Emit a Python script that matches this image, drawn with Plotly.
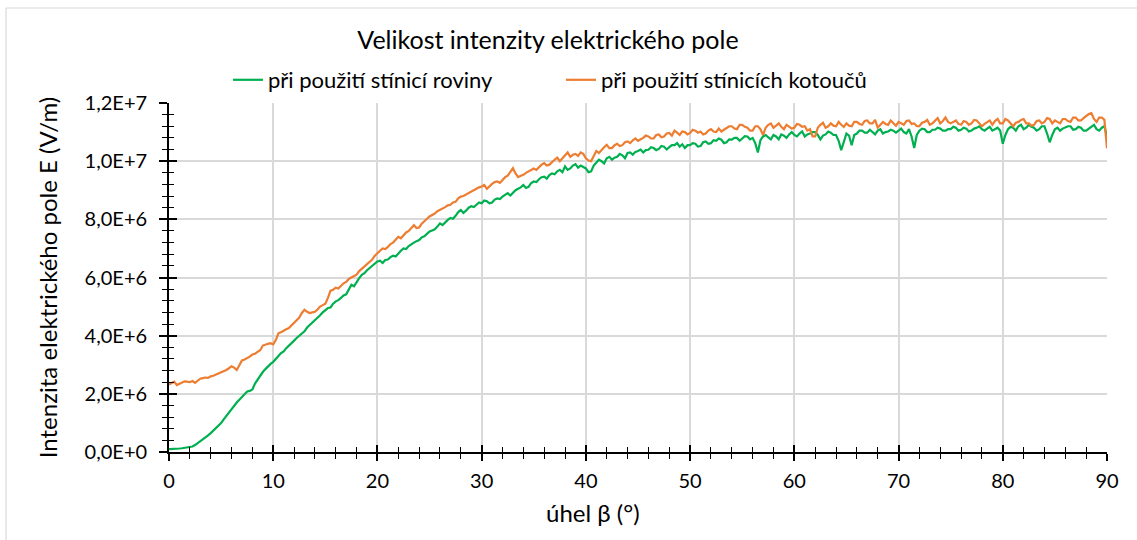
import plotly.graph_objects as go

# angle beta (deg), 0..90 step 0.25
angle = [i * 0.25 for i in range(361)]

# E-field, shielding plane (values read in MV/m = 1e6 V/m)
green_mv = [
    0.10, 0.10, 0.11, 0.11, 0.12, 0.13, 0.14, 0.15, 0.16, 0.19, 0.24, 0.30, 0.37, 0.43, 0.50, 0.57, 0.65, 0.73, 0.82, 0.91,
    1.00, 1.12, 1.24, 1.37, 1.50, 1.60, 1.70, 1.80, 1.90, 2.00, 2.08, 2.10, 2.15, 2.35, 2.50, 2.62, 2.75, 2.85, 2.95, 3.03,
    3.10, 3.22, 3.30, 3.40, 3.46, 3.57, 3.65, 3.72, 3.83, 3.92, 4.00, 4.06, 4.15, 4.28, 4.36, 4.47, 4.55, 4.62, 4.70, 4.80,
    4.88, 4.95, 4.97, 5.10, 5.18, 5.22, 5.30, 5.38, 5.42, 5.60, 5.75, 5.70, 5.85, 5.98, 6.09, 6.15, 6.25, 6.32, 6.40, 6.48,
    6.55, 6.58, 6.50, 6.60, 6.62, 6.70, 6.75, 6.72, 6.83, 6.92, 7.00, 6.98, 7.08, 7.15, 7.20, 7.25, 7.29, 7.38, 7.42, 7.50,
    7.58, 7.62, 7.66, 7.75, 7.86, 7.80, 7.90, 7.98, 8.05, 8.02, 8.12, 8.25, 8.32, 8.22, 8.30, 8.40, 8.45, 8.42, 8.50, 8.58,
    8.55, 8.65, 8.62, 8.55, 8.58, 8.68, 8.72, 8.70, 8.78, 8.85, 8.90, 8.82, 8.92, 9.00, 9.05, 9.10, 9.18, 9.08, 9.12, 9.25,
    9.30, 9.28, 9.38, 9.45, 9.47, 9.40, 9.52, 9.58, 9.55, 9.65, 9.70, 9.62, 9.82, 9.70, 9.75, 9.85, 9.90, 9.78, 9.85, 9.80,
    9.75, 9.62, 9.65, 9.85, 9.95, 10.05, 10.00, 9.92, 10.10, 10.15, 10.05, 10.12, 10.15, 10.25, 10.20, 10.10, 10.28, 10.30, 10.22, 10.32,
    10.35, 10.40, 10.30, 10.38, 10.39, 10.48, 10.45, 10.38, 10.42, 10.52, 10.50, 10.40, 10.48, 10.55, 10.55, 10.62, 10.50, 10.58, 10.45, 10.55,
    10.55, 10.62, 10.60, 10.50, 10.52, 10.65, 10.68, 10.60, 10.62, 10.72, 10.70, 10.78, 10.74, 10.62, 10.65, 10.75, 10.74, 10.80, 10.80, 10.70,
    10.78, 10.86, 10.85, 10.75, 10.80, 10.62, 10.30, 10.72, 10.85, 10.90, 10.82, 10.75, 10.90, 10.85, 10.75, 10.92, 10.88, 10.80, 10.92, 11.00,
    10.90, 10.85, 10.95, 11.02, 10.85, 10.92, 10.95, 11.00, 11.00, 10.90, 10.75, 10.88, 10.92, 11.02, 10.98, 10.90, 10.90, 10.70, 10.38, 10.70,
    10.95, 10.88, 10.55, 10.90, 10.95, 11.05, 11.05, 10.98, 10.98, 11.08, 11.00, 10.92, 11.05, 11.10, 10.95, 11.00, 11.02, 11.08, 11.05, 10.98,
    11.05, 11.12, 11.00, 10.95, 11.10, 10.85, 10.45, 10.90, 11.05, 11.12, 11.10, 11.00, 11.00, 11.08, 11.08, 11.15, 11.12, 11.05, 11.05, 11.10,
    11.10, 11.18, 11.15, 11.05, 11.08, 11.15, 11.12, 11.02, 11.05, 11.12, 11.15, 11.20, 11.10, 11.05, 11.12, 11.18, 11.05, 11.10, 11.15, 11.05,
    10.60, 10.90, 11.10, 11.18, 11.15, 11.05, 11.20, 11.25, 11.10, 11.15, 11.25, 11.18, 11.15, 11.05, 11.10, 11.20, 11.20, 10.95, 10.65, 10.90,
    11.10, 11.15, 11.05, 11.12, 11.15, 11.20, 11.20, 11.08, 11.10, 11.18, 11.15, 11.05, 11.05, 11.12, 11.20, 11.25, 11.10, 11.05, 11.15, 11.20,
    10.85,
]

# E-field, shielding discs (values read in MV/m)
orange_mv = [
    2.32, 2.36, 2.42, 2.30, 2.34, 2.40, 2.43, 2.42, 2.40, 2.44, 2.38, 2.45, 2.52, 2.54, 2.56, 2.55, 2.60, 2.62, 2.66, 2.68,
    2.74, 2.76, 2.82, 2.88, 2.95, 2.90, 2.82, 2.98, 3.15, 3.18, 3.22, 3.28, 3.35, 3.38, 3.44, 3.50, 3.66, 3.70, 3.72, 3.74,
    3.70, 3.85, 4.08, 4.12, 4.18, 4.22, 4.26, 4.35, 4.43, 4.50, 4.62, 4.78, 4.89, 4.82, 4.78, 4.80, 4.82, 4.90, 5.00, 5.05,
    5.10, 5.30, 5.55, 5.58, 5.65, 5.62, 5.72, 5.80, 5.85, 5.95, 6.00, 6.05, 6.10, 6.22, 6.30, 6.38, 6.45, 6.55, 6.62, 6.75,
    6.85, 6.92, 7.00, 6.98, 7.05, 7.15, 7.20, 7.30, 7.40, 7.35, 7.45, 7.55, 7.60, 7.72, 7.80, 7.70, 7.72, 7.85, 7.95, 8.02,
    8.10, 8.15, 8.20, 8.28, 8.32, 8.38, 8.42, 8.48, 8.50, 8.58, 8.60, 8.72, 8.78, 8.80, 8.85, 8.92, 8.95, 9.02, 9.05, 9.10,
    9.13, 9.18, 9.05, 9.15, 9.22, 9.28, 9.30, 9.25, 9.36, 9.45, 9.50, 9.62, 9.76, 9.58, 9.45, 9.50, 9.53, 9.60, 9.65, 9.72,
    9.75, 9.70, 9.80, 9.88, 9.93, 9.85, 9.88, 9.98, 10.05, 10.12, 10.00, 10.10, 10.20, 10.30, 10.15, 10.22, 10.25, 10.18, 10.30, 10.25,
    10.10, 10.02, 10.00, 10.20, 10.35, 10.28, 10.40, 10.48, 10.56, 10.45, 10.45, 10.55, 10.60, 10.52, 10.55, 10.65, 10.68, 10.62, 10.72, 10.78,
    10.70, 10.75, 10.80, 10.88, 10.85, 10.78, 10.78, 10.90, 10.92, 10.82, 10.85, 10.95, 10.97, 10.88, 11.05, 10.98, 10.90, 11.02, 11.00, 10.92,
    10.97, 11.08, 11.05, 10.98, 11.02, 10.92, 10.95, 11.05, 11.10, 11.02, 11.00, 11.12, 11.02, 11.08, 11.15, 11.20, 11.20, 11.12, 11.10, 11.25,
    11.25, 11.18, 11.15, 11.05, 11.05, 11.20, 11.20, 11.10, 10.90, 11.15, 11.25, 11.30, 11.15, 11.22, 11.30, 11.18, 11.10, 11.25, 11.20, 11.12,
    11.15, 11.28, 11.25, 11.18, 11.20, 11.05, 11.10, 10.85, 10.85, 11.15, 11.25, 11.32, 11.15, 11.20, 11.30, 11.22, 11.20, 11.35, 11.25, 11.18,
    11.30, 11.22, 11.20, 11.35, 11.35, 11.28, 11.25, 11.38, 11.40, 11.30, 11.30, 11.42, 11.15, 11.25, 11.35, 11.28, 11.25, 11.40, 11.30, 11.22,
    11.35, 11.30, 11.25, 11.38, 11.40, 11.28, 11.30, 11.20, 11.20, 11.32, 11.35, 11.42, 11.25, 11.30, 11.40, 11.48, 11.30, 11.38, 11.50, 11.35,
    11.30, 11.35, 11.40, 11.28, 11.25, 11.38, 11.35, 11.25, 11.30, 11.42, 11.40, 11.30, 11.20, 11.28, 11.35, 11.40, 11.25, 11.38, 11.45, 11.30,
    11.30, 11.45, 11.40, 11.28, 11.20, 11.32, 11.35, 11.42, 11.45, 11.30, 11.30, 11.22, 11.25, 11.38, 11.40, 11.30, 11.35, 11.48, 11.45, 11.30,
    11.40, 11.35, 11.30, 11.45, 11.45, 11.38, 11.35, 11.50, 11.50, 11.40, 11.40, 11.48, 11.55, 11.62, 11.65, 11.45, 11.35, 11.50, 11.50, 11.42,
    10.44,
]

assert len(green_mv) == len(angle) and len(orange_mv) == len(angle)

series_names = ["při použití stínicí roviny", "při použití stínicích kotoučů"]
series_colors = ["#00B050", "#ED7D31"]

x_tickvals = [0, 10, 20, 30, 40, 50, 60, 70, 80, 90]
x_ticktext = ["0", "10", "20", "30", "40", "50", "60", "70", "80", "90"]
y_tickvals = [0, 2e6, 4e6, 6e6, 8e6, 1e7, 1.2e7]
y_ticktext = ["0,0E+0", "2,0E+6", "4,0E+6", "6,0E+6", "8,0E+6", "1,0E+7", "1,2E+7"]

title_text = "Velikost intenzity elektrického pole"
x_title = "úhel β (°)"
y_title = "Intenzita elektrického pole E (V/m)"

green = [v * 1e6 for v in green_mv]
orange = [v * 1e6 for v in orange_mv]

FONT = "Lato, 'Open Sans', sans-serif"
W, H = 1137, 540
L, R, T, B = 169, 30, 103, 88
PW, PH = W - L - R, H - T - B


def px_x(p):
    return (p - L) / PW


def px_y(p):
    return (H - B - p) / PH


fig = go.Figure()
for vals, name, col in zip([green, orange], series_names, series_colors):
    fig.add_trace(go.Scatter(x=angle, y=vals, mode="lines", name=name,
                             line=dict(color=col, width=2.2)))

axis_common = dict(showline=True, linecolor="black", linewidth=1.8,
                   tickcolor="black", tickwidth=1.5, zeroline=False)

fig.update_layout(
    width=W, height=H,
    margin=dict(l=L, r=R, t=T, b=B),
    paper_bgcolor="white", plot_bgcolor="white",
    font=dict(family=FONT, size=20, color="black"),
    showlegend=True,
    legend=dict(orientation="h", x=px_x(228), xanchor="left",
                y=px_y(80), yanchor="middle", font=dict(size=22),
                entrywidth=288, bgcolor="rgba(0,0,0,0)"),
    title=dict(text=title_text, x=px_x(548), xanchor="center", xref="paper",
               y=1 - 40 / H, yanchor="middle", font=dict(size=25)),
    xaxis=dict(range=[0, 90], tickvals=x_tickvals, ticktext=x_ticktext,
               ticks="outside", ticklen=7,
               minor=dict(ticks="outside", ticklen=5, dtick=2, tick0=0,
                          tickcolor="black", tickwidth=1.3, showgrid=False),
               showgrid=True, gridcolor="#D9D9D9", gridwidth=1.5,
               tickfont=dict(size=20), ticklabelstandoff=3, **axis_common),
    yaxis=dict(range=[0, 1.2e7], tickvals=y_tickvals, ticktext=y_ticktext,
               ticks="outside", ticklen=8,
               minor=dict(ticks="outside", ticklen=5, dtick=4e5, tick0=0,
                          tickcolor="black", tickwidth=1.3, showgrid=False),
               showgrid=True, gridcolor="#D9D9D9", gridwidth=1.5,
               tickfont=dict(size=20), ticklabelstandoff=8,
               title=dict(text=y_title, font=dict(size=24), standoff=20),
               **axis_common),
    xaxis2=dict(range=[0, 90], overlaying="x", anchor="y", side="bottom",
                tickvals=x_tickvals, ticks="inside", ticklen=7,
                showticklabels=False, showgrid=False,
                minor=dict(ticks="inside", ticklen=5, dtick=2, tick0=0,
                           tickcolor="black", tickwidth=1.3, showgrid=False),
                **axis_common),
    yaxis2=dict(range=[0, 1.2e7], overlaying="y", anchor="x", side="left",
                tickvals=y_tickvals, ticks="inside", ticklen=8,
                showticklabels=False, showgrid=False,
                minor=dict(ticks="inside", ticklen=5, dtick=4e5, tick0=0,
                           tickcolor="black", tickwidth=1.3, showgrid=False),
                **axis_common),
    annotations=[dict(text=x_title, xref="paper", yref="paper",
                      x=px_x(593), y=px_y(512), xanchor="center",
                      yanchor="middle", showarrow=False,
                      font=dict(size=24, family=FONT))],
    shapes=[
        dict(type="line", xref="paper", yref="paper", x0=px_x(6), x1=px_x(1137),
             y0=px_y(8), y1=px_y(8), line=dict(color="#D9D9D9", width=1.2)),
        dict(type="line", xref="paper", yref="paper", x0=px_x(6), x1=px_x(6),
             y0=px_y(8), y1=px_y(545), line=dict(color="#D9D9D9", width=1.2)),
    ],
)
# invisible anchor trace so that the overlay axes (crossing ticks) are drawn
fig.add_trace(go.Scatter(x=[None], y=[None], xaxis="x2", yaxis="y2",
                         showlegend=False, hoverinfo="skip"))

fig.write_html("out.html", config={"displayModeBar": False},
               post_script="document.body.style.margin='0';document.body.style.padding='0';")
